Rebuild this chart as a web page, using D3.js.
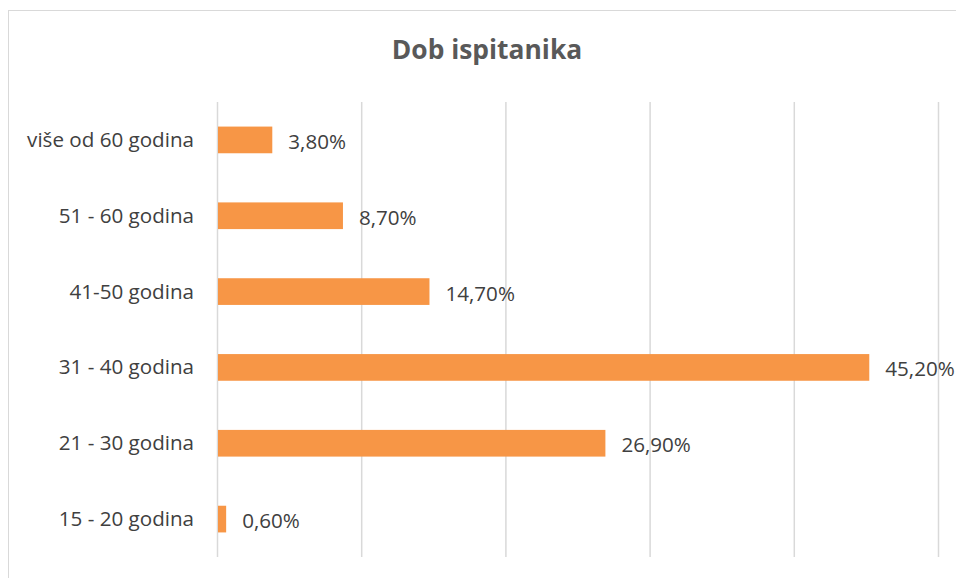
<!DOCTYPE html>
<html><head><meta charset="utf-8">
<script src="https://cdn.jsdelivr.net/npm/d3@7"></script>
<style>html,body{margin:0;padding:0;background:#fff;}svg{display:block;}</style>
</head><body>
<svg id="c" width="956" height="578"></svg>
<script>
const categories = ["više od 60 godina","51 - 60 godina","41-50 godina","31 - 40 godina","21 - 30 godina","15 - 20 godina"];
const values = [3.8, 8.7, 14.7, 45.2, 26.9, 0.6];
const valueLabels = ["3,80%","8,70%","14,70%","45,20%","26,90%","0,60%"];
const xTicks = [0,10,20,30,40,50];
const title = "Dob ispitanika";

const svg = d3.select("#c");
const font = "'Open Sans', sans-serif";
svg.append("rect").attr("x",8.5).attr("y",10.5).attr("width",960).attr("height",600)
  .attr("fill","#fff").attr("stroke","#d9d9d9").attr("stroke-width",1);

const x = d3.scaleLinear().domain([0,50]).range([217.5,938.5]);
const y = d3.scaleBand().domain(categories).range([102,557]).paddingInner(0.648).paddingOuter(0.324);

svg.append("g").selectAll("line").data(xTicks).join("line")
  .attr("x1",d=>x(d)).attr("x2",d=>x(d)).attr("y1",102).attr("y2",557)
  .attr("stroke","#d9d9d9").attr("stroke-width",1.5);

svg.append("g").selectAll("rect").data(values).join("rect")
  .attr("x",x(0)+0.5).attr("y",(d,i)=>y(categories[i]))
  .attr("width",d=>x(d)-x(0)-0.5).attr("height",y.bandwidth())
  .attr("fill","#F79646");

svg.append("g").selectAll("text").data(valueLabels).join("text")
  .attr("x",(d,i)=>x(values[i])+16).attr("y",(d,i)=>y(categories[i])+y.bandwidth()/2+3.5)
  .attr("dominant-baseline","middle").attr("font-family",font).attr("font-size",20.6)
  .attr("fill","#404040").text(d=>d);

svg.append("g").selectAll("text").data(categories).join("text")
  .attr("x",194).attr("y",d=>y(d)+y.bandwidth()/2+1.5)
  .attr("text-anchor","end").attr("dominant-baseline","middle")
  .attr("font-family",font).attr("font-size",20.6).attr("fill","#404040").text(d=>d);

svg.append("text").attr("x",487).attr("y",52).attr("text-anchor","middle")
  .attr("dominant-baseline","middle").attr("font-family",font).attr("font-weight","bold")
  .attr("font-size",26.4).attr("fill","#595959").text(title);
</script>
</body></html>
